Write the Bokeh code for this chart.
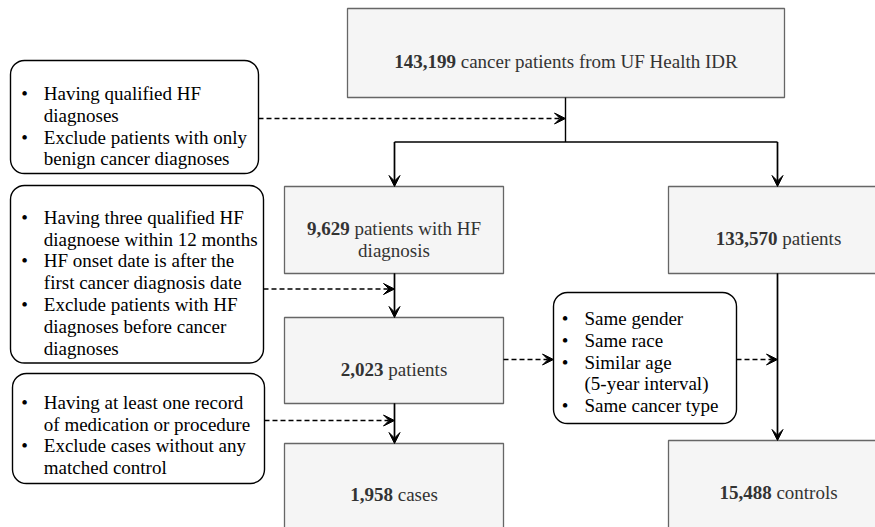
from bokeh.plotting import figure
from bokeh.models import Range1d, Arrow, VeeHead, ColumnDataSource
from bokeh.embed import file_html
from bokeh.resources import INLINE
from bokeh.core.properties import value

# ---------------- data ----------------
count_values = ["143,199", "9,629", "133,570", "2,023", "1,958", "15,488"]
count_texts = [
    ["cancer patients from UF Health IDR"],
    ["patients with HF", "diagnosis"],
    ["patients"],
    ["patients"],
    ["cases"],
    ["controls"],
]
criteria_hf = [["Having qualified HF", "diagnoses"],
               ["Exclude patients with only", "benign cancer diagnoses"]]
criteria_onset = [["Having three qualified HF", "diagnoese within 12 months"],
                  ["HF onset date is after the", "first cancer diagnosis date"],
                  ["Exclude patients with HF", "diagnoses before cancer", "diagnoses"]]
criteria_case = [["Having at least one record", "of medication or procedure"],
                 ["Exclude cases without any", "matched control"]]
criteria_match = [["Same gender"], ["Same race"],
                  ["Similar age", "(5-year interval)"], ["Same cancer type"]]

# ---------------- layout / style ----------------
W, H = 875, 527
FONT = "Liberation Serif"
FS = 19.0
LH = 21.8
BOX_FILL, BOX_LINE, BOX_TEXT = "#f5f5f5", "#666666", "#333333"
INK = "#000000"

# left, right, top, bottom, text centre x, first baseline
box_geom = [
    (347, 784, 8, 97, 565.5, 61.0),
    (284, 503, 186, 273, 393.5, 227.7),
    (668, 888, 186, 273, 778, 238.0),
    (284, 503, 317, 403, 393.5, 368.5),
    (284, 503, 443, 540, 393.5, 494.0),
    (668, 888, 440, 540, 778, 492.0),
]
# left, right, top, bottom, bullet x, text x, first baseline
note_geom = [
    (10, 258, 60, 173, 24, 43.3, 93.0),
    (10, 263, 185, 362.5, 24, 43.3, 216.7),
    (12, 264, 373, 483, 24, 43.3, 401.7),
    (553, 736, 292, 423, 564.5, 584, 318.0),
]
note_lists = [criteria_hf, criteria_onset, criteria_case, criteria_match]

# Times metrics (1/1000 em)
_lw = dict(zip("abcdefghijklmnopqrstuvwxyz",
               [444, 500, 444, 500, 444, 333, 500, 500, 278, 278, 500, 278, 778,
                500, 500, 500, 500, 333, 389, 278, 500, 500, 722, 500, 500, 444]))
_uw = dict(zip("ABCDEFGHIJKLMNOPQRSTUVWXYZ",
               [722, 667, 667, 722, 611, 556, 722, 722, 333, 389, 722, 611, 889,
                722, 722, 556, 722, 667, 556, 611, 722, 722, 944, 722, 722, 611]))
_ow = {" ": 250, ",": 250, "-": 333, "(": 333, ")": 333, ".": 250}


def tw(s):
    tot = 0
    for ch in s:
        if ch.isdigit():
            tot += 500
        elif ch in _lw:
            tot += _lw[ch]
        elif ch in _uw:
            tot += _uw[ch]
        else:
            tot += _ow.get(ch, 500)
    return tot * FS / 1000.0


p = figure(width=W, height=H, x_range=Range1d(0, W), y_range=Range1d(H, 0),
           output_backend="svg", toolbar_location=None, min_border=0,
           x_axis_location=None, y_axis_location=None)
p.grid.visible = False
p.outline_line_color = None
p.background_fill_color = "white"

# ---- main boxes ----
p.quad(left=[g[0] for g in box_geom], right=[g[1] for g in box_geom],
       top=[g[2] for g in box_geom], bottom=[g[3] for g in box_geom],
       fill_color=BOX_FILL, line_color=BOX_LINE, line_width=1.3)

# ---- note boxes (rounded) ----
p.quad(left=[g[0] for g in note_geom], right=[g[1] for g in note_geom],
       top=[g[2] for g in note_geom], bottom=[g[3] for g in note_geom],
       fill_color="white", line_color=INK, line_width=1.4, border_radius=14)

# ---- connectors ----
lines_x = [[565, 565], [394, 777], [394, 394], [777, 777], [394, 394], [394, 394]]
lines_y = [[97, 141.5], [141.5, 141.5], [141.5, 180], [141.5, 180], [273, 310], [403, 436]]
p.multi_line(xs=lines_x, ys=lines_y, line_color=INK, line_width=1.4)
p.line(x=[777, 777], y=[273, 433], line_color=INK, line_width=1.4)

solid_arrows = [(394, 141.5, 394, 186), (777, 141.5, 777, 186), (394, 273, 394, 317),
                (394, 403, 394, 443), (777, 273, 777, 440)]
for xs, ys, xe, ye in solid_arrows:
    p.add_layout(Arrow(x_start=xs, y_start=ys, x_end=xe, y_end=ye, line_color=INK,
                       line_width=1.4,
                       end=VeeHead(size=11, fill_color=INK, line_color=INK, line_width=1)))

dashed_arrows = [(258, 118, 565, 118), (263, 288.5, 394, 288.5), (264, 420, 394, 420),
                 (503, 359, 553, 359), (736, 359, 777, 359)]
for xs, ys, xe, ye in dashed_arrows:
    p.add_layout(Arrow(x_start=xs, y_start=ys, x_end=xe, y_end=ye, line_color=INK,
                       line_width=1.4, line_dash="5 3",
                       end=VeeHead(size=11, fill_color=INK, line_color=INK, line_width=1)))

# ---- main box texts ----
bold = dict(x=[], y=[], text=[])
reg = dict(x=[], y=[], text=[])
regc = dict(x=[], y=[], text=[])
sp = tw(" ")
for val, rest, g in zip(count_values, count_texts, box_geom):
    cx, by = g[4], g[5]
    bw = tw(val)
    total = bw + sp + tw(rest[0])
    x0 = cx - total / 2
    bold["x"].append(x0); bold["y"].append(by); bold["text"].append(val)
    reg["x"].append(x0 + bw + sp); reg["y"].append(by); reg["text"].append(rest[0])
    for k, line in enumerate(rest[1:], start=1):
        regc["x"].append(cx); regc["y"].append(by + k * LH); regc["text"].append(line)

common = dict(text_font=value(FONT), text_font_size=f"{FS}px", text_baseline="alphabetic")
p.text(x="x", y="y", text="text", source=ColumnDataSource(bold), text_align="left",
       text_font_style="bold", text_color=BOX_TEXT, **common)
p.text(x="x", y="y", text="text", source=ColumnDataSource(reg), text_align="left",
       text_color=BOX_TEXT, **common)
p.text(x="x", y="y", text="text", source=ColumnDataSource(regc), text_align="center",
       text_color=BOX_TEXT, **common)

# ---- bullet texts ----
bul = dict(x=[], y=[], text=[])
btx = dict(x=[], y=[], text=[])
for items, g in zip(note_lists, note_geom):
    bx, tx, by = g[4], g[5], g[6]
    k = 0
    for item in items:
        bul["x"].append(bx); bul["y"].append(by + k * LH); bul["text"].append("\u2022")
        for line in item:
            btx["x"].append(tx); btx["y"].append(by + k * LH); btx["text"].append(line)
            k += 1

p.text(x="x", y="y", text="text", source=ColumnDataSource(bul), text_align="center",
       text_color=INK, **common)
p.text(x="x", y="y", text="text", source=ColumnDataSource(btx), text_align="left",
       text_color=INK, **common)

open("out.html", "w").write(file_html(p, INLINE))
